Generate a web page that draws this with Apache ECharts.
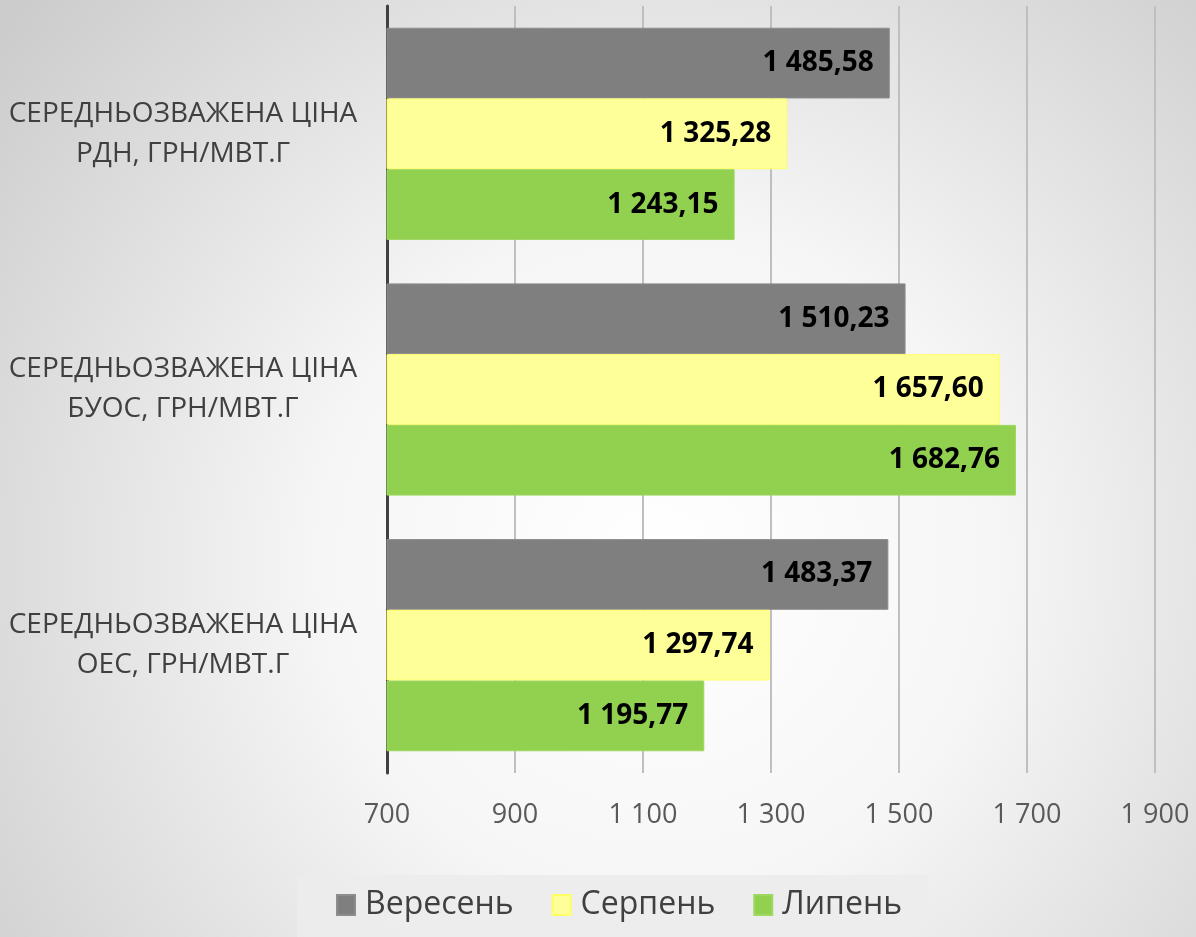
<!DOCTYPE html>
<html>
<head>
<meta charset="utf-8">
<script src="https://cdn.jsdelivr.net/npm/echarts@6/dist/echarts.min.js"></script>
<style>
  html, body { margin: 0; padding: 0; }
  #main { width: 1196px; height: 937px; }
</style>
</head>
<body>
<div id="main"></div>
<script>
var dom = document.getElementById('main');
var myChart = echarts.init(dom, null, { renderer: 'canvas' });

// data
const categories = [
  'СЕРЕДНЬОЗВАЖЕНА ЦІНА\nРДН, ГРН/МВТ.Г',
  'СЕРЕДНЬОЗВАЖЕНА ЦІНА\nБУОС, ГРН/МВТ.Г',
  'СЕРЕДНЬОЗВАЖЕНА ЦІНА\nОЕС, ГРН/МВТ.Г'
];
const seriesNames = ['Вересень', 'Серпень', 'Липень'];
const september = [1485.58, 1510.23, 1483.37];
const august = [1325.28, 1657.60, 1297.74];
const july = [1243.15, 1682.76, 1195.77];

const colors = ['#7f7f7f', '#ffff99', '#92d050'];
const borders = ['#8c8c8c', '#ffff66', '#9ed860'];
const fontFamily = '"Open Sans", sans-serif';

function spaced(v, dec) {
  var parts = v.toFixed(dec).split('.');
  var intPart = parts[0].replace(/\B(?=(\d{3})+(?!\d))/g, ' ');
  return parts.length > 1 ? intPart + ',' + parts[1] : intPart;
}

function makeSeries(name, data, i) {
  return {
    name: name,
    type: 'bar',
    data: data,
    barGap: 0,
    barCategoryGap: '17%',
    itemStyle: { color: colors[i], borderColor: borders[i], borderWidth: 1 },
    label: {
      show: true,
      position: 'insideRight',
      distance: 16,
      color: '#000',
      fontFamily: fontFamily,
      fontWeight: 'bold',
      fontSize: 28,
      formatter: function (p) { return spaced(p.value, 2); }
    }
  };
}

var option = {
  backgroundColor: {
    type: 'radial', x: 0.55, y: 0.6, r: 0.9,
    colorStops: [
      { offset: 0, color: '#ffffff' },
      { offset: 0.4, color: '#f6f6f6' },
      { offset: 1, color: '#cccccc' }
    ]
  },
  color: colors,
  textStyle: { fontFamily: fontFamily },
  grid: { left: 387, right: 41, top: 6, bottom: 164, containLabel: false },
  legend: {
    data: seriesNames,
    left: 297,
    bottom: 0,
    icon: 'rect',
    itemWidth: 18,
    itemHeight: 20,
    itemGap: 38,
    padding: [14, 26, 16, 39],
    backgroundColor: 'rgba(236,236,236,0.9)',
    textStyle: { fontSize: 32, color: '#404040', padding: [0, 0, 0, 5] }
  },
  xAxis: {
    type: 'value',
    min: 700,
    max: 1900,
    interval: 200,
    axisLine: { show: false },
    axisTick: { show: false },
    splitLine: { lineStyle: { color: '#bfbfbf', width: 2 } },
    axisLabel: {
      margin: 29,
      fontSize: 27,
      color: '#595959',
      formatter: function (v) { return spaced(v, 0); }
    }
  },
  yAxis: {
    type: 'category',
    inverse: true,
    data: categories,
    axisLine: { show: true, lineStyle: { color: '#404040', width: 3 } },
    axisTick: { show: false },
    axisLabel: {
      margin: 204,
      align: 'center',
      fontSize: 28,
      lineHeight: 40,
      color: '#404040'
    }
  },
  series: [
    makeSeries(seriesNames[0], september, 0),
    makeSeries(seriesNames[1], august, 1),
    makeSeries(seriesNames[2], july, 2)
  ]
};

myChart.setOption(option);
window.addEventListener('resize', myChart.resize);
</script>
</body>
</html>
